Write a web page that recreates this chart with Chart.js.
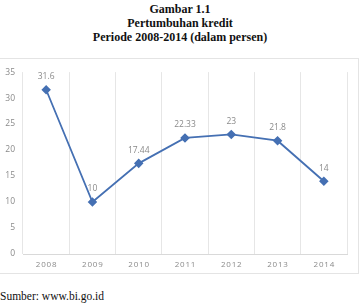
<!DOCTYPE html>
<html>
<head>
<meta charset="utf-8">
<script src="https://cdn.jsdelivr.net/npm/chart.js@4"></script>
<style>
  body { margin: 0; background: #fff; }
  #page { position: relative; width: 360px; height: 307px; overflow: hidden; }
  #title { position: absolute; top: 2px; left: 0; width: 360px; text-align: center;
    font-family: "Liberation Serif", serif; font-weight: bold; font-size: 12px; line-height: 14px; color: #111; }
  #frame { position: absolute; left: -1px; top: 58px; width: 358px; height: 214px; border: 1px solid #e4e4e4; }
  #box { position: absolute; left: 0; top: 59px; width: 358px; height: 214px; }
  #source { position: absolute; left: 0; top: 290px; font-family: "Liberation Serif", serif; font-size: 11.5px; color: #111; }
</style>
</head>
<body>
<div id="page">
  <div id="title">Gambar 1.1<br>Pertumbuhan kredit<br>Periode 2008-2014 (dalam persen)</div>
  <div id="frame"></div>
  <div id="box"><canvas id="chart"></canvas></div>
  <div id="source">Sumber: www.bi.go.id</div>
</div>
<script>
const years = ['2008', '2009', '2010', '2011', '2012', '2013', '2014'];
const kredit = [31.6, 10, 17.44, 22.33, 23, 21.8, 14];
const valueLabels = ['31.6', '10', '17.44', '22.33', '23', '21.8', '14'];
const yTicks = [0, 5, 10, 15, 20, 25, 30, 35];

const pointLabels = {
    id: 'pointLabels',
    afterDatasetsDraw(chart) {
        const ctx = chart.ctx;
        const meta = chart.getDatasetMeta(0);
        ctx.save();
        ctx.font = '8.5px "Open Sans", sans-serif';
        ctx.fillStyle = '#8a8a8a';
        ctx.textAlign = 'center';
        ctx.textBaseline = 'middle';
        meta.data.forEach((pt, i) => {
            ctx.fillText(valueLabels[i], pt.x, pt.y - 13);
        });
        ctx.restore();
    }
};

const config = {
    type: 'line',
    data: {
        labels: years,
        datasets: [{
            label: 'Pertumbuhan kredit',
            data: kredit,
            borderColor: '#4570b3',
            backgroundColor: '#4570b3',
            borderWidth: 1.8,
            pointStyle: 'rectRot',
            pointRadius: 3.5,
            pointHoverRadius: 3.5,
            tension: 0,
        }]
    },
    options: {
        responsive: true,
        maintainAspectRatio: false,
        animation: false,
        layout: { padding: { top: 13, right: 11, bottom: 0, left: 0 } },
        plugins: {
            legend: { display: false },
            title: { display: false },
            tooltip: { enabled: false }
        },
        scales: {
            x: {
                offset: true,
                grid: { color: '#e6e6e6', offset: true, drawTicks: false },
                border: { color: '#d9d9d9' },
                ticks: {
                    color: '#8a8a8a',
                    font: { size: 8, family: '"Open Sans", sans-serif' },
                    padding: 6,
                    maxRotation: 0,
                    callback: function (v, i) { return years[i].split('').join('\u200a'); }
                },
                afterFit(scale) { scale.height = 19; }
            },
            y: {
                min: 0,
                max: 35,
                afterBuildTicks(scale) { scale.ticks = yTicks.map(v => ({ value: v })); },
                grid: { display: false, drawTicks: false },
                border: { display: false },
                ticks: { color: '#8a8a8a', font: { size: 8.5, family: '"Open Sans", sans-serif' }, padding: 8 },
                afterFit(scale) { scale.width = 23; }
            }
        }
    },
    plugins: [pointLabels]
};

window.addEventListener('load', function () {
    new Chart(document.getElementById('chart'), config);
});
</script>
</body>
</html>
